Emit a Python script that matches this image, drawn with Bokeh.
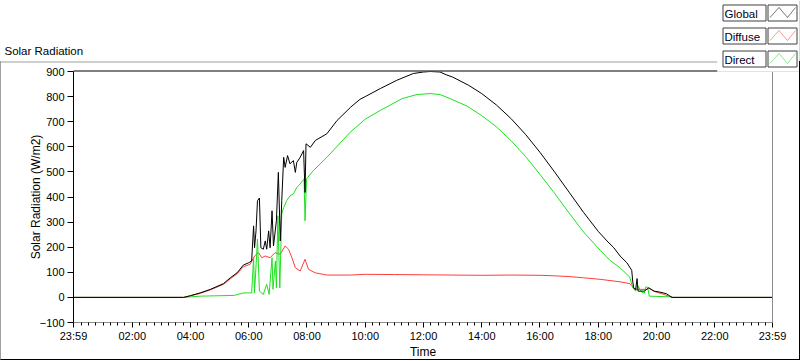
from bokeh.plotting import figure
from bokeh.layouts import column
from bokeh.models import (Range1d, FixedTicker, Label, BoxAnnotation, PolyAnnotation,
                          LinearAxis, InlineStyleSheet)
from bokeh.embed import file_html
from bokeh.resources import INLINE

# ---------------- data ----------------
series_names = ["Global", "Diffuse", "Direct"]
series_colors = ["#000000", "#ff3c3c", "#1ee01e"]

global_times = ["00:00", "03:46", "04:00", "04:20", "04:41", "05:08", "05:22", "05:36", "05:49",
                "06:00", "06:06", "06:10", "06:12", "06:15", "06:18", "06:22", "06:25", "06:30",
                "06:34", "06:37", "06:41", "06:44", "06:48", "06:51", "06:57", "07:01", "07:05",
                "07:08", "07:12", "07:15", "07:20", "07:25", "07:32", "07:36", "07:39", "07:46",
                "07:53", "07:56", "07:58", "08:07", "08:17", "08:41", "09:02", "09:30", "09:49",
                "10:00", "10:31", "11:05", "11:39", "12:00", "12:14", "12:34", "12:48", "13:00",
                "13:33", "14:00", "14:30", "15:00", "15:30", "16:00", "16:30", "17:00", "17:30",
                "18:00", "18:18", "18:32", "18:45", "18:59", "19:09", "19:11", "19:13", "19:17",
                "19:20", "19:22", "19:35", "19:44", "19:55", "20:05", "20:20", "20:32", "23:59"]
global_vals = [0, 0, 7, 18, 32, 55, 78, 98, 129,
               138, 145, 285, 198, 265, 385, 396, 198, 192,
               225, 192, 265, 198, 345, 205, 305, 498, 225,
               385, 558, 518, 565, 532, 545, 498, 538, 558,
               585, 418, 612, 598, 625, 652, 705, 758, 789,
               800, 832, 865, 892, 898, 900, 898, 886, 878,
               845, 812, 767, 713, 650, 578, 500, 419, 338,
               263, 225, 198, 165, 138, 108, 65, 38, 30,
               75, 25, 25, 38, 25, 22, 15, 0, 0]

diffuse_times = ["00:00", "03:46", "04:00", "04:20", "04:41", "05:08", "05:22", "05:36", "05:49",
                 "06:03", "06:12", "06:20", "06:27", "06:34", "06:44", "06:54", "07:05", "07:15",
                 "07:22", "07:29", "07:36", "07:46", "07:56", "08:03", "08:17", "08:41", "09:29",
                 "10:00", "11:00", "12:00", "13:00", "14:00", "15:00", "16:00", "16:30", "17:00",
                 "17:30", "18:04", "18:45", "19:05", "19:09", "19:12", "19:20", "19:40", "19:44",
                 "19:55", "20:15", "20:32", "23:59"]
diffuse_vals = [0, 0, 6, 16, 30, 52, 74, 94, 122,
                132, 165, 178, 158, 165, 158, 178, 172, 205,
                192, 158, 118, 105, 152, 112, 98, 89, 89,
                92, 91, 90, 89, 88, 89, 88, 86, 83,
                78, 72, 62, 55, 47, 38, 32, 32, 38,
                24, 12, 0, 0]

direct_times = ["00:00", "03:46", "04:20", "05:30", "05:50", "06:06", "06:10", "06:12", "06:18",
                "06:22", "06:30", "06:37", "06:42", "06:48", "06:50", "06:55", "06:57", "07:00",
                "07:04", "07:08", "07:12", "07:18", "07:25", "07:32", "07:39", "07:46", "07:54",
                "07:56", "07:59", "08:13", "08:41", "09:29", "10:00", "10:31", "11:16", "11:46",
                "12:14", "12:34", "12:55", "13:30", "14:00", "14:30", "15:00", "15:30", "16:00",
                "16:30", "17:00", "17:30", "18:04", "18:24", "18:45", "19:05", "19:09", "19:12",
                "19:17", "19:22", "19:30", "19:35", "19:38", "19:42", "19:45", "20:32", "20:33",
                "23:59"]
direct_vals = [0, 0, 5, 8, 18, 18, 158, 18, 232,
               25, 12, 52, 12, 158, 32, 145, 38, 325,
               38, 332, 358, 385, 405, 412, 438, 452, 472,
               305, 472, 505, 558, 658, 710, 745, 792, 808,
               812, 808, 792, 762, 724, 680, 625, 562, 490,
               415, 336, 260, 188, 148, 118, 81, 52, 38,
               25, 45, 20, 17, 42, 40, 5, 2, 0,
               0]

y_ticks = [-100, 0, 100, 200, 300, 400, 500, 600, 700, 800, 900]
x_tick_labels = ["23:59", "02:00", "04:00", "06:00", "08:00", "10:00", "12:00",
                 "14:00", "16:00", "18:00", "20:00", "22:00", "23:59"]


def to_min(s):
    h, mm = s.split(":")
    return int(h) * 60 + int(mm)


x_tick_pos = [-1] + [to_min(s) for s in x_tick_labels[1:]]
minor_pos = [m for m in range(0, 1440, 15) if m % 120 != 0] + [0]

FONT = "Liberation Sans"
W, H = 800, 361
HEAD_H = 72

# ---------------- main chart ----------------
p = figure(width=W, height=H, x_range=Range1d(-1, 1439), y_range=Range1d(-100, 900),
           output_backend="svg", toolbar_location=None, title_location=None,
           min_border_left=73, min_border_right=28, min_border_top=71, min_border_bottom=39,
           background_fill_color="white", border_fill_color="white", outline_line_color=None)
p.xgrid.visible = False
p.ygrid.visible = False

ya = p.yaxis[0]
ya.ticker = FixedTicker(ticks=y_ticks)
ya.minor_tick_line_color = None
ya.major_tick_out = 6
ya.major_tick_in = 0
ya.major_tick_line_color = "black"
ya.axis_line_color = "black"
ya.major_label_standoff = 3
ya.major_label_text_font = FONT
ya.major_label_text_font_size = "11px"
ya.major_label_text_color = "black"
ya.axis_label = "Solar Radiation (W/m2)"
ya.axis_label_text_font = FONT
ya.axis_label_text_font_size = "12px"
ya.axis_label_text_font_style = "normal"
ya.axis_label_text_color = "black"
ya.axis_label_standoff = -6

xa = p.xaxis[0]
xa.ticker = FixedTicker(ticks=x_tick_pos, minor_ticks=minor_pos)
xa.major_label_overrides = {pos: lab for pos, lab in zip(x_tick_pos, x_tick_labels)}
xa.major_tick_out = 5
xa.major_tick_in = 0
xa.minor_tick_out = 3
xa.minor_tick_in = 0
xa.major_tick_line_color = "black"
xa.minor_tick_line_color = "black"
xa.axis_line_color = "#8c8c8c"
xa.major_label_standoff = 2
xa.major_label_text_font = FONT
xa.major_label_text_font_size = "11px"
xa.major_label_text_color = "black"
xa.axis_label = "Time"
xa.axis_label_text_font = FONT
xa.axis_label_text_font_size = "12px"
xa.axis_label_text_font_style = "normal"
xa.axis_label_text_color = "black"
xa.axis_label_standoff = 0

# right edge of the plot area (plain line, no ticks)
ra = LinearAxis(ticker=FixedTicker(ticks=[]), axis_line_color="#8c8c8c",
                major_tick_line_color=None, minor_tick_line_color=None)
p.add_layout(ra, "right")

times = [global_times, diffuse_times, direct_times]
vals = [global_vals, diffuse_vals, direct_vals]
for i in [1, 2, 0]:
    p.line([to_min(s) for s in times[i]], vals[i], line_color=series_colors[i], line_width=1)

# ---------------- header overlay: panel title + legend (transparent canvas) ----------------
hd = figure(width=W, height=HEAD_H, x_range=Range1d(0, W), y_range=Range1d(HEAD_H, 0),
            output_backend="svg", toolbar_location=None, title_location=None,
            x_axis_type=None, y_axis_type=None, min_border=0,
            background_fill_alpha=0, border_fill_alpha=0, outline_line_color=None,
            styles={"position": "absolute", "left": "0px", "top": "0px"})
hd.xgrid.visible = False
hd.ygrid.visible = False
for fig in (hd, p):
    try:
        fig.frame_align = False
    except Exception:
        pass


def hbox(l, r, t, b, fill=None, line=None):
    hd.add_layout(BoxAnnotation(left=l, right=r, top=t, bottom=b,
                                fill_color=fill if fill else "white", fill_alpha=1 if fill else 0,
                                line_color=line if line else "black", line_alpha=1 if line else 0,
                                line_width=1))


hbox(0, 717, 61, 62, fill="#a0a0a0")      # outer panel, top edge
hbox(73, 717, 70, 71, fill="black")       # plot area, top edge
hd.add_layout(Label(x=4, y=50, text="Solar Radiation", text_font=FONT,
                    text_font_size="11.5px", text_baseline="middle", text_color="black"))

hbox(717, 800, 0, 72, fill="white")       # legend panel
hbox(717, 800, 71, 72, fill="#c8c8c8")
hbox(799, 800, 0, 72, fill="#b0b0b0")
row_top = [4.5, 27.5, 50.5]
for i, name in enumerate(series_names):
    t = row_top[i]
    hbox(722.5, 765.5, t, t + 16, fill="white", line="#404040")
    hbox(767.5, 796.5, t, t + 16, fill="white", line="#404040")
    hd.add_layout(Label(x=724, y=t + 8.5, text=name, text_font=FONT, text_font_size="11.5px",
                        text_baseline="middle", text_color="#000020"))
    xs = [769.5, 778.5, 787, 795, 787, 778.5]
    ys = [t + 12.5, t + 2.5, t + 12.5, t + 2.5, t + 12.5, t + 2.5]
    hd.add_layout(PolyAnnotation(xs=xs, ys=ys, fill_alpha=0,
                                 line_color=series_colors[i], line_width=1))

frame_css = InlineStyleSheet(css="""
:host { position: relative; }
:host::after {
  content: "";
  position: absolute;
  left: 0px; top: 61px; width: 800px; height: 299px;
  box-sizing: border-box;
  border-left: 1px solid #a0a0a0;
  border-right: 1px solid #000000;
  border-bottom: 1px solid #000000;
  pointer-events: none;
}
""")

layout = column(p, hd, spacing=0, stylesheets=[frame_css])
open("out.html", "w").write(file_html(layout, INLINE))
